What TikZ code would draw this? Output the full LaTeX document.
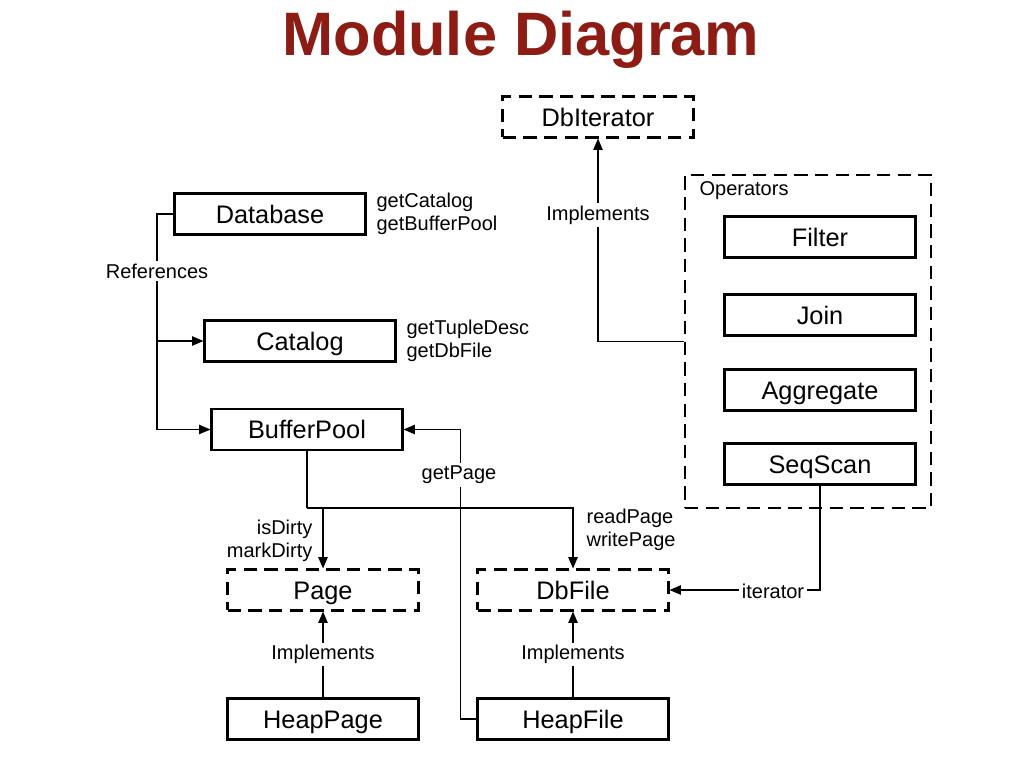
\documentclass[tikz,border=0pt]{standalone}
\usepackage{fontspec}
\setmainfont{Liberation Sans}
\usetikzlibrary{arrows.meta}
\definecolor{titlered}{RGB}{140,28,20}

\begin{document}
\begin{tikzpicture}[x=0.75pt,y=-0.75pt,
  box/.style={draw, line width=1.8pt, minimum width=143pt, minimum height=30.5pt,
              inner sep=0pt, text height=14.5pt, text depth=1pt,
              font=\fontsize{19}{21}\selectfont}, % class box
  iface/.style={box, dash pattern=on 10pt off 5.5pt}, % interface box
  conn/.style={line width=1pt},
  arr/.style={conn, -{Triangle[length=8.5pt,width=7pt]}},
  lbl/.style={font=\fontsize{15}{17}\selectfont, inner sep=1pt},
  tag/.style={lbl, fill=white, inner sep=2pt}] % label sitting on a line
\useasboundingbox (0,0) rectangle (1024,768);

% title
\node[anchor=base, text=titlered, font=\fontsize{46}{50}\selectfont\bfseries]
  (title) at (521,55) {Module Diagram};

% interfaces
\node[iface] (dbiter) at (598,117) {DbIterator};
\node[iface] (page) at (323,590) {Page};
\node[iface] (dbfile) at (573,590) {DbFile};

% operators group
\node[draw, line width=1.8pt, dash pattern=on 10pt off 5.5pt,
      minimum width=184.5pt, minimum height=250pt] (ops) at (808,341.5) {};
\node[lbl, anchor=west] (opslbl) at (698,191) {Operators};
\node[box] (filter) at (820,237) {Filter};
\node[box] (join) at (820,315) {Join};
\node[box] (agg) at (820,390) {Aggregate};
\node[box] (scan) at (820,464) {SeqScan};

% classes
\node[box] (db) at (270,214) {Database};
\node[box] (cat) at (300,341) {Catalog};
\node[box] (bp) at (307,429.5) {BufferPool};
\node[box] (hpage) at (323,719) {HeapPage};
\node[box] (hfile) at (573,719) {HeapFile};

% method names
\node[lbl, anchor=west, align=left] (dbm) at (375,214) {getCatalog\\getBufferPool};
\node[lbl, anchor=west, align=left] (catm) at (405,341) {getTupleDesc\\getDbFile};
\node[lbl, anchor=east, align=right] (pagem) at (314,541) {isDirty\\markDirty};
\node[lbl, anchor=west, align=left] (filem) at (585,530) {readPage\\writePage};

% references
\coordinate (refs) at (157,429.5);
\draw[conn] (db.west) -| (refs);
\draw[arr] (refs |- cat.west) -- (cat.west);
\draw[arr] (refs) -- (bp.west);
\node[tag] (reflbl) at (157,271) {References};

% operators implement DbIterator
\draw[arr] (ops.west) -| (dbiter.south);
\node[tag] (implit) at (598,215) {Implements};

% buffer pool calls
\coordinate (split) at (307,508);
\draw[conn] (bp.south) -- (split);
\draw[arr] (split) -| (dbfile.north);
\draw[arr] (page.north |- split) -- (page.north);

% getPage
\draw[arr] (hfile.west) -- ++(-16,0) |- (bp.east);
\node[tag] (gplbl) at (459,475) {getPage};

% iterator
\draw[arr] (scan.south) |- (dbfile.east);
\node[tag] (itlbl) at (773,591) {iterator};

% implementations
\draw[arr] (hpage.north) -- node[tag] (implpage) {Implements} (page.south);
\draw[arr] (hfile.north) -- node[tag] (implfile) {Implements} (dbfile.south);

\end{tikzpicture}
\end{document}
